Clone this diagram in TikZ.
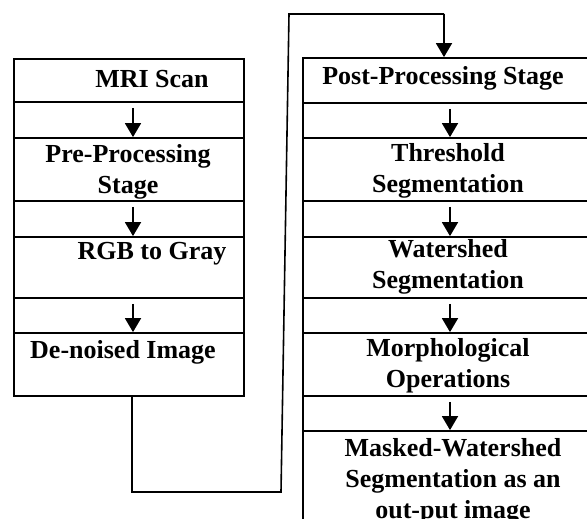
\documentclass[tikz,border=0pt]{standalone}
\usepackage{fontspec}
\setmainfont{Liberation Serif}
\usetikzlibrary{arrows.meta}

\begin{document}
\begin{tikzpicture}[x=1pt,y=-1pt,
        cellNode/.style = {draw=black,line width=1.8pt,minimum width=230pt,inner sep=0pt},
        rightCellNode/.style = {cellNode,minimum width=300pt},
        textNode/.style = {align=center,inner sep=0pt,font=\fontsize{26}{31}\selectfont\bfseries},
        flow/.style = {line width=1.8pt,-{Triangle[width=16pt,length=14pt]}},
        loopLine/.style = {line width=1.6pt}
        ]
        \useasboundingbox (0,0) rectangle (587,519);
        \clip (0,0) rectangle (587,519);
        % left column
        \node[cellNode,minimum height=43pt] (mri) at (129,80.5) {};
        \node[cellNode,minimum height=36pt] (gapA) at (129,120) {};
        \node[cellNode,minimum height=63pt] (pre) at (129,169.5) {};
        \node[cellNode,minimum height=36pt] (gapB) at (129,219) {};
        \node[cellNode,minimum height=61pt] (rgb) at (129,267.5) {};
        \node[cellNode,minimum height=35pt] (gapC) at (129,315.5) {};
        \node[cellNode,minimum height=63pt] (den) at (129,364.5) {};
        % right column, cut off at the page edge
        \node[rightCellNode,minimum height=45pt] (post) at (453,80.5) {};
        \node[rightCellNode,minimum height=35pt] (gapD) at (453,120.5) {};
        \node[rightCellNode,minimum height=63pt] (thr) at (453,169.5) {};
        \node[rightCellNode,minimum height=36pt] (gapE) at (453,219) {};
        \node[rightCellNode,minimum height=61pt] (wat) at (453,267.5) {};
        \node[rightCellNode,minimum height=35pt] (gapF) at (453,315.5) {};
        \node[rightCellNode,minimum height=63pt] (mor) at (453,364.5) {};
        \node[rightCellNode,minimum height=35pt] (gapG) at (453,413.5) {};
        \node[rightCellNode,minimum height=109pt] (msk) at (453,485.5) {};
        % texts
        \node[textNode] (mriText) at (152,79) {MRI Scan};
        \node[textNode] (preText) at (128,172) {Pre-Processing\\Stage};
        \node[textNode] (rgbText) at (152,254) {RGB to Gray};
        \node[textNode] (denText) at (123,352) {De-noised Image};
        \node[textNode] (postText) at (443,78) {Post-Processing Stage};
        \node[textNode] (thrText) at (448,171) {Threshold\\Segmentation};
        \node[textNode] (watText) at (448,267) {Watershed\\Segmentation};
        \node[textNode] (morText) at (448,366) {Morphological\\Operations};
        \node[textNode] (mskText) at (453,481) {Masked-Watershed\\Segmentation as an\\out-put image};
        % arrows
        \draw[flow] ([xshift=4pt,yshift=-5pt]mri.south) -- ([xshift=4pt]pre.north);
        \draw[flow] ([xshift=4pt,yshift=-5pt]pre.south) -- ([xshift=4pt]rgb.north);
        \draw[flow] ([xshift=4pt,yshift=-5pt]rgb.south) -- ([xshift=4pt]den.north);
        \draw[flow] ([xshift=-3pt,yshift=-5pt]post.south) -- ([xshift=-3pt]thr.north);
        \draw[flow] ([xshift=-3pt,yshift=-5pt]thr.south) -- ([xshift=-3pt]wat.north);
        \draw[flow] ([xshift=-3pt,yshift=-5pt]wat.south) -- ([xshift=-3pt]mor.north);
        \draw[flow] ([xshift=-3pt,yshift=-5pt]mor.south) -- ([xshift=-3pt]msk.north);
        % link between the columns
        \coordinate (c1) at (132,492);
        \coordinate (c2) at (281,492);
        \coordinate (c3) at (289,14);
        \coordinate (c4) at (444,14);
        \draw[loopLine] (den.south -| c1) -- (c1) -- (c2) -- (c3) -- (c4);
        \draw[flow] (c4) -- (c4 |- post.north);
\end{tikzpicture}
\end{document}
